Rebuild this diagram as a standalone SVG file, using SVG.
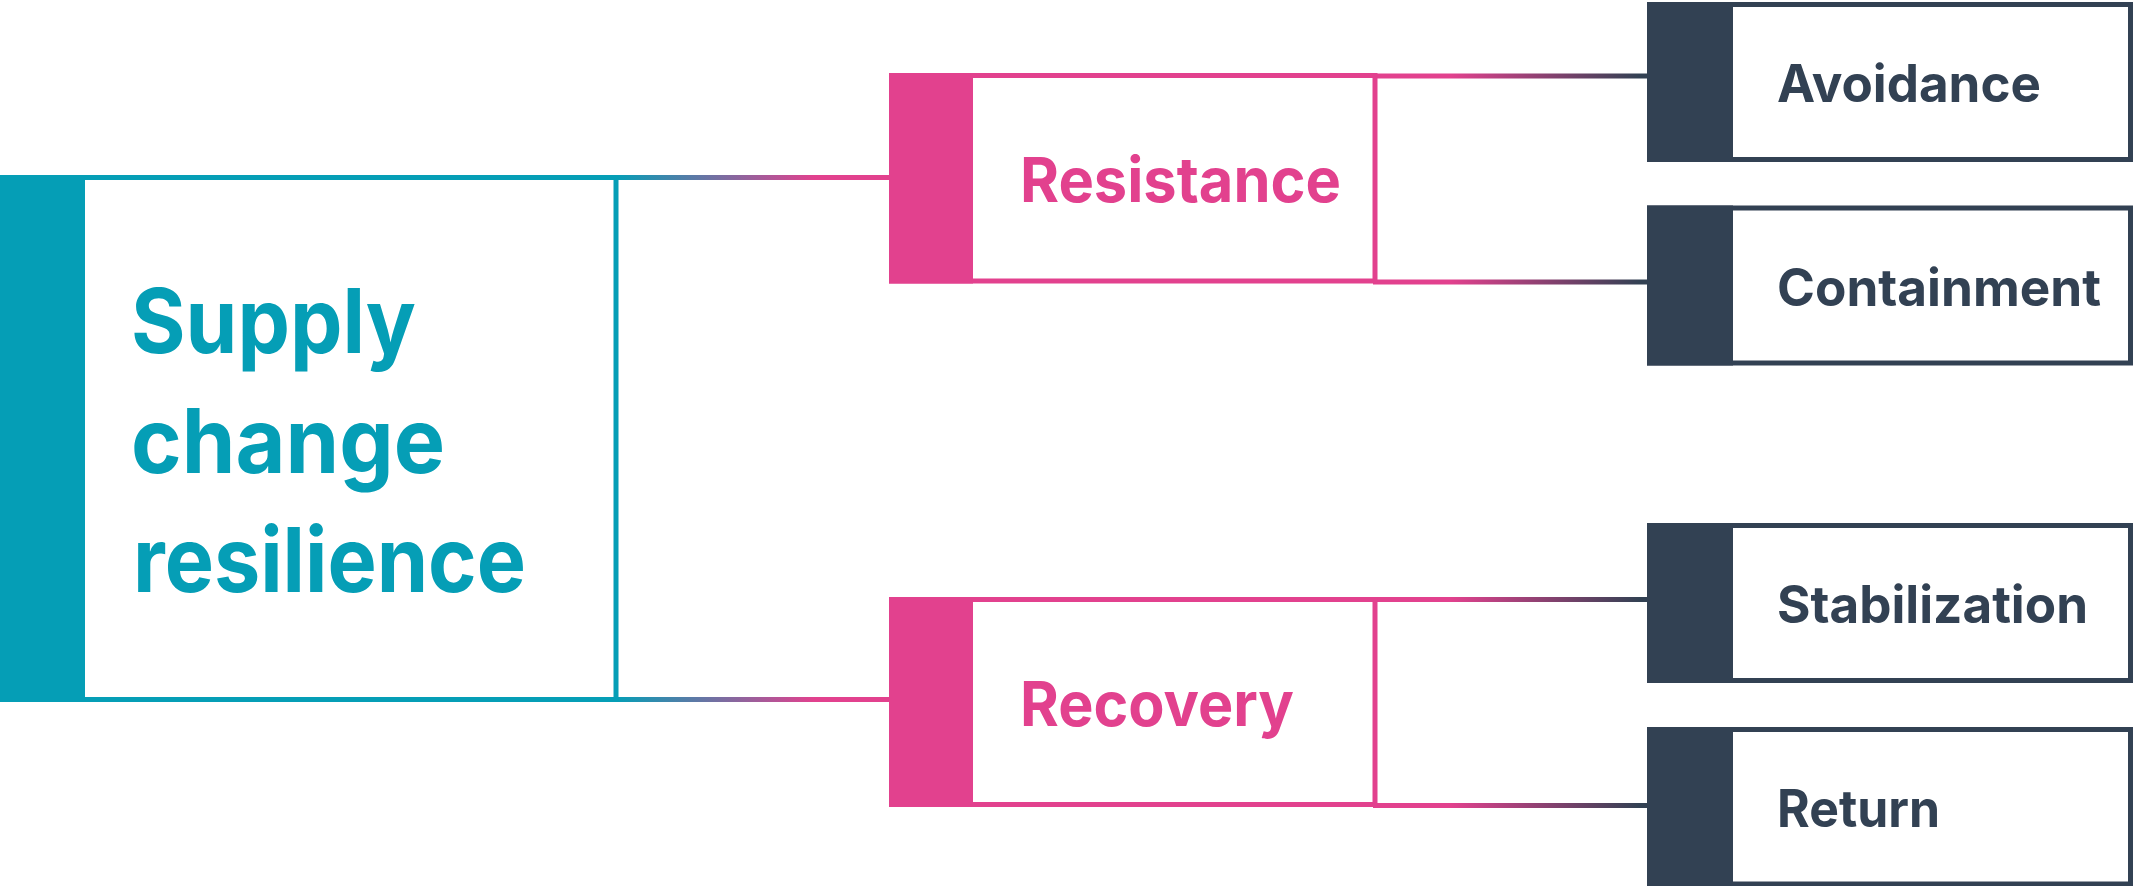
<svg xmlns="http://www.w3.org/2000/svg" width="2133" height="886" viewBox="0 0 2133 886">
<style>
.bg{fill:#ffffff}
.teal{fill:#ffffff;stroke:#059eb6;stroke-width:5}
.pink{fill:#ffffff;stroke:#e2418e;stroke-width:5}
.dark{fill:#ffffff;stroke:#324153;stroke-width:5}
.barT{fill:#059eb6}
.barP{fill:#e2418e}
.barD{fill:#324153}
text{font-family:Inter,"Liberation Sans",sans-serif;font-weight:700}
.tM{fill:#059eb6;font-size:90px}
.tP{fill:#e2418e;font-size:62px}
.tD{fill:#324153;font-size:52px}
.c{fill:none;stroke-width:5}
</style>
<defs>
<linearGradient id="gTP1" gradientUnits="userSpaceOnUse" x1="616" y1="0" x2="815" y2="0">
<stop offset="0" stop-color="#059eb6"/><stop offset="1" stop-color="#e2418e"/>
</linearGradient>
<linearGradient id="gPD" gradientUnits="userSpaceOnUse" x1="1450" y1="0" x2="1640" y2="0">
<stop offset="0" stop-color="#e2418e"/><stop offset="1" stop-color="#324153"/>
</linearGradient>
</defs>
<rect class="bg" x="0" y="0" width="2133" height="886"/>
<g id="connectors">
<line class="c" stroke="url(#gTP1)" x1="614" y1="177.5" x2="891" y2="177.5"/>
<line class="c" stroke="url(#gTP1)" x1="614" y1="699.5" x2="891" y2="699.5"/>
<line class="c" stroke="url(#gPD)" x1="1373" y1="76" x2="1649" y2="76"/>
<line class="c" stroke="url(#gPD)" x1="1373" y1="282" x2="1649" y2="282"/>
<line class="c" stroke="url(#gPD)" x1="1373" y1="599.5" x2="1649" y2="599.5"/>
<line class="c" stroke="url(#gPD)" x1="1373" y1="805.5" x2="1649" y2="805.5"/>
</g>
<g id="node-main">
<rect class="teal" x="2.5" y="177.5" width="613.5" height="522"/>
<rect class="barT" x="0" y="175" width="85" height="527"/>
<text class="tM" x="131" y="353" textLength="285" lengthAdjust="spacingAndGlyphs">Supply</text>
<text class="tM" x="131" y="472.5" textLength="314" lengthAdjust="spacingAndGlyphs">change</text>
<text class="tM" x="133" y="592" textLength="393" lengthAdjust="spacingAndGlyphs">resilience</text>
</g>
<g id="node-resistance">
<rect class="pink" x="891.5" y="75.5" width="483.5" height="205.5"/>
<rect class="barP" x="889" y="73" width="84" height="210.5"/>
<text class="tP" x="1020" y="201.7" textLength="321" lengthAdjust="spacingAndGlyphs">Resistance</text>
</g>
<g id="node-recovery">
<rect class="pink" x="891.5" y="599.5" width="483.5" height="205"/>
<rect class="barP" x="889" y="597" width="84" height="210"/>
<text class="tP" x="1020" y="725.7" textLength="274" lengthAdjust="spacingAndGlyphs">Recovery</text>
</g>
<g id="node-avoidance">
<rect class="dark" x="1649.5" y="4.5" width="481" height="155"/>
<rect class="barD" x="1647" y="2" width="86" height="160"/>
<text class="tD" x="1777" y="101.7" textLength="264" lengthAdjust="spacingAndGlyphs">Avoidance</text>
</g>
<g id="node-containment">
<rect class="dark" x="1649.5" y="208" width="481" height="155"/>
<rect class="barD" x="1647" y="205.5" width="86" height="160"/>
<text class="tD" x="1777" y="305.7" textLength="324" lengthAdjust="spacingAndGlyphs">Containment</text>
</g>
<g id="node-stabilization">
<rect class="dark" x="1649.5" y="525.5" width="481" height="155"/>
<rect class="barD" x="1647" y="523" width="86" height="160"/>
<text class="tD" x="1777" y="623" textLength="311" lengthAdjust="spacingAndGlyphs">Stabilization</text>
</g>
<g id="node-return">
<rect class="dark" x="1649.5" y="729.5" width="481" height="154.5"/>
<rect class="barD" x="1647" y="727" width="86" height="159"/>
<text class="tD" x="1777" y="826.7" textLength="163" lengthAdjust="spacingAndGlyphs">Return</text>
</g>
</svg>
